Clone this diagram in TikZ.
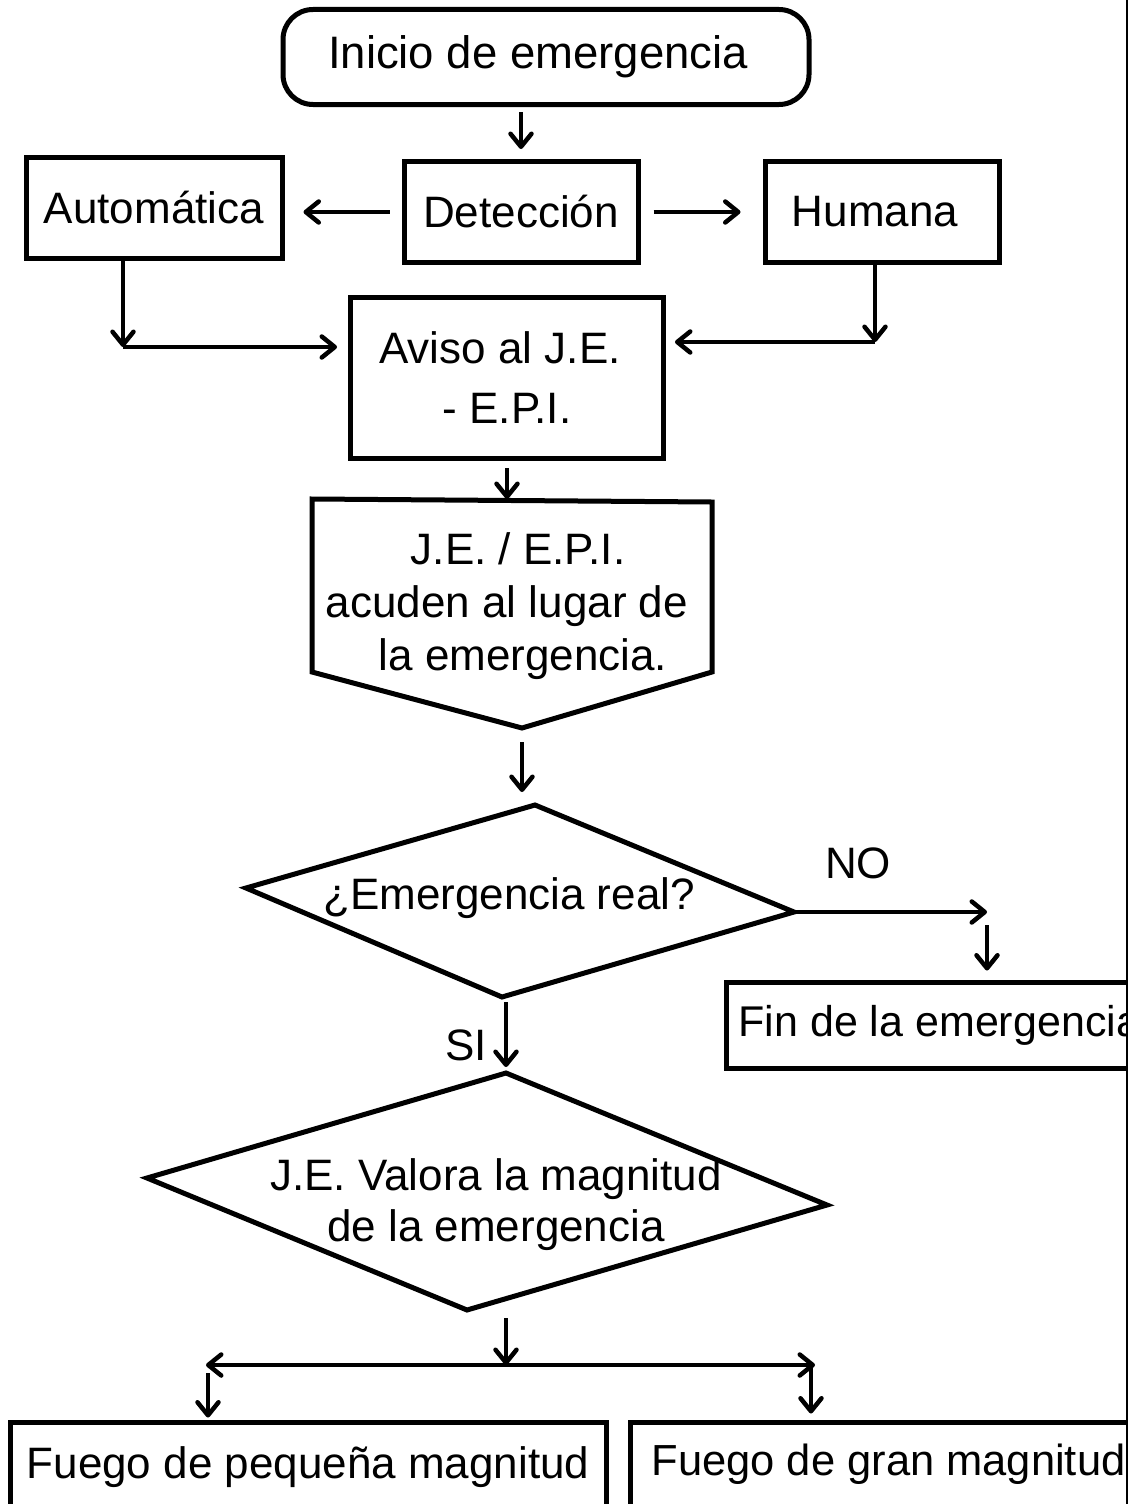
\documentclass[tikz,border=0pt]{standalone}
\usepackage{fontspec}
\setmainfont{Liberation Sans}
\usepackage{tikz}
\usetikzlibrary{arrows.meta,positioning,calc}
\tikzstyle{caja}=[draw,rectangle,line width=5pt,inner sep=0pt,align=center]
\tikzstyle{rotulo}=[inner sep=0pt,align=center]
\tikzstyle{flecha}=[-{Straight Barb[length=13pt,width=21pt,round]}]
\tikzstyle{doble}=[{Straight Barb[length=13pt,width=21pt,round]}-{Straight Barb[length=13pt,width=21pt,round]}]

\begin{document}
\begin{tikzpicture}[x=1pt,y=-1pt,line width=4.5pt,font=\fontsize{44}{51}\selectfont]
\useasboundingbox (0,0) rectangle (1140,1504);
\begin{scope}
\clip (0,0) rectangle (1126,1504);
% inicio y deteccion
\node [caja,rounded corners=30pt,minimum width=526pt,minimum height=95pt,font=\fontsize{45.5}{51}\selectfont] (inicio) at (546,57) {Inicio de emergencia\hspace*{16pt}};
\node [caja,minimum width=256pt,minimum height=101pt] (auto) at (154,208) {Automática};
\node [caja,minimum width=234pt,minimum height=101pt] (detec) at (521,212) {Detección};
\node [caja,minimum width=234pt,minimum height=101pt] (humana) at (882,212) {Humana\hspace*{14pt}};
\node [caja,minimum width=313pt,minimum height=161pt,font=\fontsize{44}{60}\selectfont] (aviso) at (507,378) {Aviso al J.E.\hspace*{14pt}\\ - E.P.I.};
\draw[flecha,shorten <=5pt,shorten >=10pt] (inicio.south -| detec.north) -- (detec.north);
\draw[flecha,shorten <=12pt,shorten >=19pt] (detec.west) -- (detec.west -| auto.east);
\draw[flecha,shorten <=13pt,shorten >=22pt] (detec.east) -- (detec.east -| humana.west);
\coordinate (codoa) at (123,347);
\coordinate (codoh) at (875,342);
\draw[flecha] (auto.south -| codoa) -- (codoa);
\draw[flecha,shorten >=11pt] (codoa) -- (codoa -| aviso.west);
\draw[flecha] (humana.south -| codoh) -- (codoh);
\draw[flecha,shorten >=9pt] (codoh) -- (codoh -| aviso.east);
% conector de pagina
\coordinate (p1) at (312,499);
\coordinate (p2) at (712,502);
\coordinate (p3) at (712,672);
\coordinate (p4) at (522,728);
\coordinate (p5) at (312,672);
\draw[line width=5pt] (p1) -- (p2) -- (p3) -- (p4) -- (p5) -- cycle;
\node [rotulo,font=\fontsize{44}{53}\selectfont] (acuden) at (507,606) {\hspace*{22pt}J.E. / E.P.I.\\ acuden al lugar de\\ \hspace*{32pt}la emergencia.};
\draw[flecha,shorten <=7pt] (aviso.south) -- (aviso.south |- p1);
% emergencia real?
\coordinate (rtop) at (535,805);
\coordinate (rleft) at (246,888);
\coordinate (rright) at (794,912);
\coordinate (rbot) at (502,997);
\draw[line width=5pt] (rtop) -- (rright) -- (rbot) -- (rleft) -- cycle;
\node [rotulo] (real) at (509,898) {¿Emergencia real?};
\draw[flecha,shorten <=14pt,shorten >=13pt] (p4) -- (p4 |- rtop);
\node (no) at (858,863) {NO};
\coordinate (nofin) at (987,912);
\draw[flecha] (rright) -- (nofin);
\node [caja,anchor=west,text width=461pt,align=flush left,inner xsep=12pt,minimum height=86pt,font=\fontsize{43}{51}\selectfont] (fin) at (724,1025) {Fin de la emergencia};
\draw[flecha,shorten <=13pt,shorten >=9pt] (nofin) -- (nofin |- fin.north);
% magnitud
\coordinate (mtop) at (506,1073);
\coordinate (mleft) at (147,1178);
\coordinate (mright) at (827,1205);
\coordinate (mbot) at (467,1310);
\draw[flecha,shorten <=5pt,shorten >=6pt] (rbot -| mtop) -- (mtop);
\node (si) at (466,1045) {SI};
\draw[line width=5pt] (mtop) -- (mright) -- (mbot) -- (mleft) -- cycle;
\node [rotulo] (valora) at (496,1205) {J.E. Valora la magnitud\\ de la emergencia};
\coordinate (rama) at (506,1365);
\coordinate (izq) at (208,1365);
\coordinate (der) at (811,1365);
\draw[flecha,shorten <=8pt] (mbot -| rama) -- (rama);
\draw[doble,shorten <=-2pt,shorten >=-4pt] (izq) -- (der);
\node [caja,minimum width=596pt,minimum height=90pt] (pequena) at (308,1467) {Fuego de pequeña magnitud};
\node [caja,anchor=west,text width=500pt,align=flush left,inner xsep=21pt,minimum height=84pt,font=\fontsize{43.5}{51}\selectfont] (gran) at (628,1464) {Fuego de gran magnitud};
\draw[flecha,shorten <=8pt,shorten >=2pt] (izq) -- (izq |- pequena.north);
\draw[flecha,shorten <=3pt,shorten >=6pt] (der) -- (der |- gran.north);
\end{scope}
\draw[line width=2.5pt] (1127,0) -- (1127,1504);
\end{tikzpicture}
\end{document}
